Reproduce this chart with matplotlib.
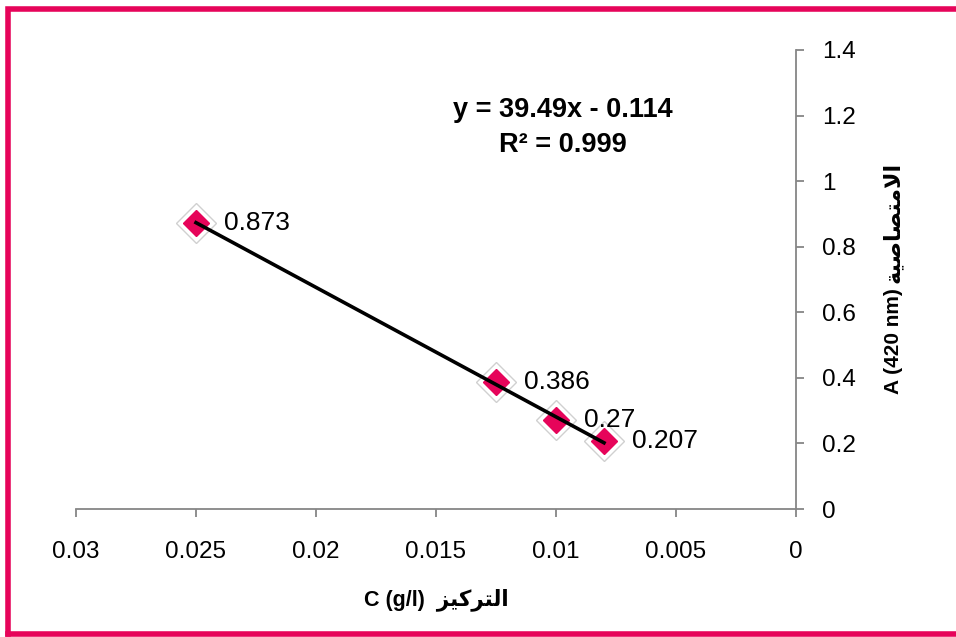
import matplotlib
matplotlib.use("Agg")
import matplotlib.pyplot as plt
import numpy as np
from matplotlib.lines import Line2D
from matplotlib.ticker import FuncFormatter


# concentration (g/l) and absorbance at 420 nm
conc = [0.025, 0.0125, 0.01, 0.008]
absorb = [0.873, 0.386, 0.27, 0.207]
point_labels = ["0.873", "0.386", "0.27", "0.207"]
x_ticks = [0.03, 0.025, 0.02, 0.015, 0.01, 0.005, 0.0]
y_ticks = [0, 0.2, 0.4, 0.6, 0.8, 1.0, 1.2, 1.4]
eq_text = "y = 39.49x - 0.114\nR² = 0.999"

# Arabic words written in presentation forms, visual order (matplotlib does no shaping)
AR_ABSORB = "\uFE94\uFEF4\uFEBB\uFE8E\uFEBC\uFE98\uFEE3\uFEFB\uFE8D"   # الامتصاصية
AR_CONC = "\uFEB0\uFEF4\uFEDB\uFEAE\uFE98\uFEDF\uFE8D"               # التركيز

FONTS = ["Liberation Sans", "DejaVu Sans"]
PINK = "#E6045A"
GREY = "#868686"

plt.rcParams["font.family"] = FONTS

fig = plt.figure(figsize=(9.56, 6.37), dpi=100)
ax = fig.add_axes([76 / 956, 1 - 509 / 637, 720 / 956, 459 / 637])

# trendline from a least squares fit of the points
slope, intercept = np.polyfit(conc, absorb, 1)
xs = np.array([max(conc), min(conc)])
ax.plot(xs, slope * xs + intercept, color="black", lw=2.6, zorder=4)

# soft halo behind each marker, then the marker itself
ax.plot(conc, absorb, ls="none", marker="D", ms=20, mfc="white",
        mec="#d0d0d0", mew=1.0, zorder=2)
ax.plot(conc, absorb, ls="none", marker="D", ms=13, mfc=PINK,
        mec=PINK, mew=1.0, zorder=3)

for xv, yv, lab in zip(conc, absorb, point_labels):
    ax.annotate(lab, (xv, yv), xytext=(20, 0), textcoords="offset points",
                ha="left", va="center", fontsize=19, zorder=5)

ax.text(0.676, 0.832, eq_text, transform=ax.transAxes, ha="center",
        va="center", fontsize=19.5, fontweight="bold", linespacing=1.45)

ax.set_xlim(0.03, 0.0)
ax.set_ylim(0, 1.4)
ax.set_xticks(x_ticks)
ax.set_yticks(y_ticks)
fmt = FuncFormatter(lambda v, p: "{:g}".format(round(v, 6)))
ax.xaxis.set_major_formatter(fmt)
ax.yaxis.set_major_formatter(fmt)

ax.yaxis.tick_right()
for side in ["left", "top"]:
    ax.spines[side].set_visible(False)
for side in ["bottom", "right"]:
    ax.spines[side].set_color(GREY)
    ax.spines[side].set_linewidth(1.3)
ax.tick_params(axis="both", direction="out", length=6, width=1.3,
               color=GREY, labelsize=17.5)
ax.tick_params(axis="x", pad=17)
ax.tick_params(axis="y", pad=13)

# axis titles placed as free text so they sit where the reference has them
ax.text(0.501, -0.198, "C (g/l)  " + AR_CONC, transform=ax.transAxes,
        ha="center", va="center", fontsize=15.5, fontweight="bold")
y_lat = ax.text(1.135, 0.366, "A (420 nm)", transform=ax.transAxes,
                rotation=90, ha="center", va="center", fontsize=15,
                fontweight="bold")
ax.annotate(AR_ABSORB, xy=(0.5, 1), xycoords=y_lat, xytext=(0, 4),
            textcoords="offset points", rotation=90, ha="center",
            va="bottom", fontsize=16, fontweight="bold")

# pink frame around the chart area (right side runs off the picture)
fx0, fx1 = 8 / 956, 1.02
fy0, fy1 = 1 - 634 / 637, 1 - 9 / 637
fig.add_artist(Line2D([fx0, fx0, fx1], [fy0, fy1, fy1], color=PINK, lw=4,
                      transform=fig.transFigure, solid_joinstyle="miter"))
fig.add_artist(Line2D([fx0, fx1], [fy0, fy0], color=PINK, lw=4,
                      transform=fig.transFigure))

fig.savefig("out.png", dpi=100)
